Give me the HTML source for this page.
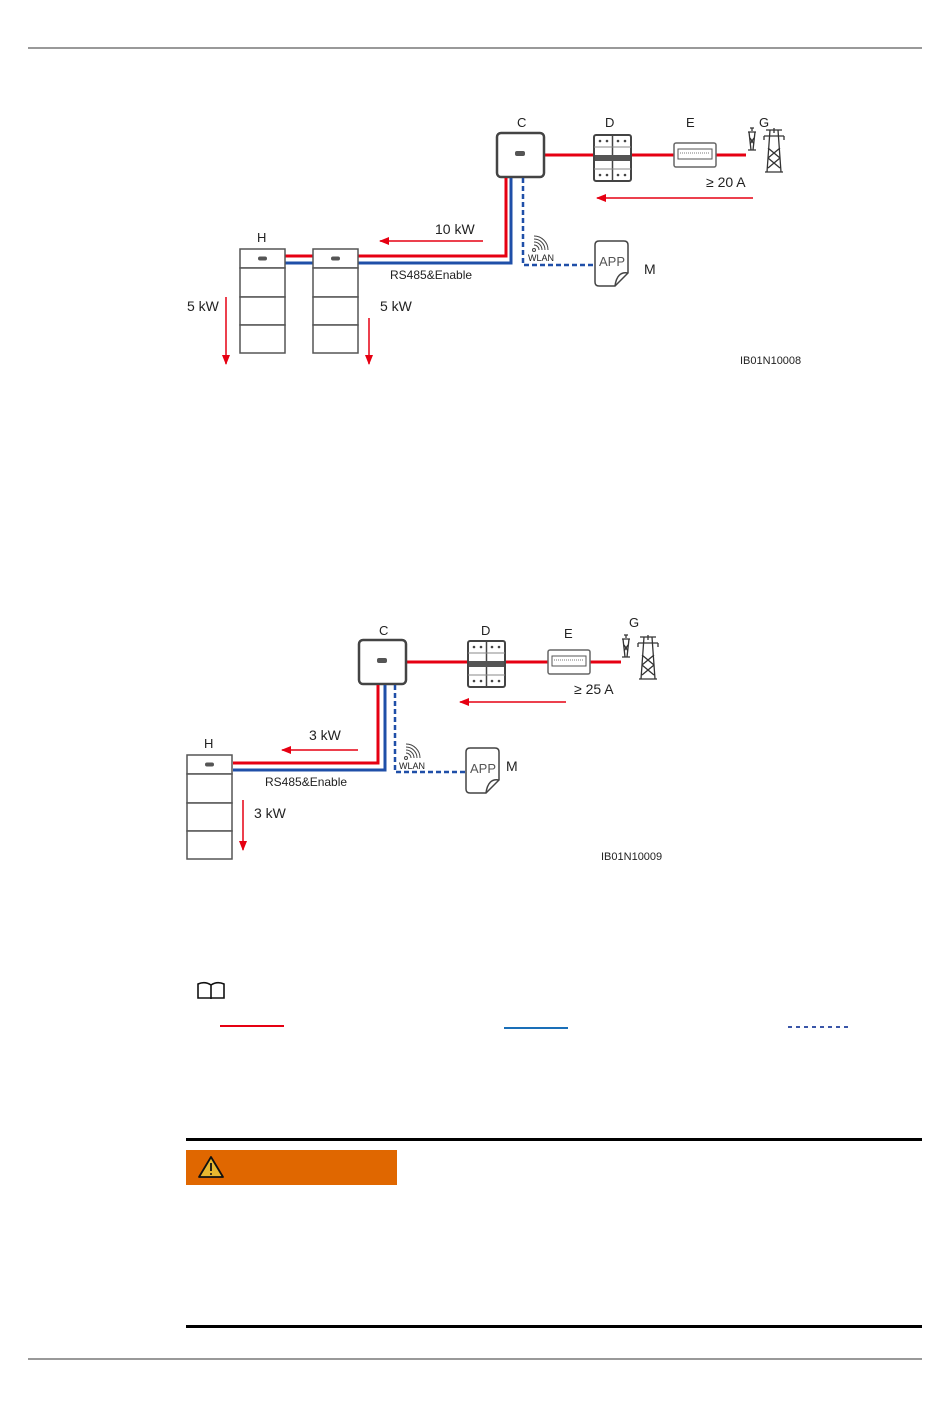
<!DOCTYPE html>
<html><head><meta charset="utf-8"><style>
html,body{margin:0;padding:0;background:#fff}
svg{display:block}
text{font-family:"Liberation Sans",sans-serif;fill:#222}
</style></head><body>
<svg width="950" height="1408" viewBox="0 0 950 1408" xmlns="http://www.w3.org/2000/svg">
<defs>
<marker id="ar" markerWidth="10" markerHeight="8" refX="9" refY="4" orient="auto" markerUnits="userSpaceOnUse">
<path d="M0,0 L10,4 L0,8 z" fill="#e60012"/></marker>
<g id="inv"><rect x="1" y="1" width="47" height="44" rx="4" fill="#fff" stroke="#444" stroke-width="2.5"/><rect x="19" y="19" width="10" height="5" rx="2" fill="#555"/></g>
<g id="brk"><rect x="0" y="0" width="37" height="46" rx="2" fill="#fff" stroke="#444" stroke-width="2"/><line x1="18.5" y1="0" x2="18.5" y2="46" stroke="#444" stroke-width="1.5"/><rect x="1" y="20" width="35" height="6" fill="#555"/><circle cx="6" cy="6" r="1.3" fill="#444"/><circle cx="13" cy="6" r="1.3" fill="#444"/><circle cx="24" cy="6" r="1.3" fill="#444"/><circle cx="31" cy="6" r="1.3" fill="#444"/><circle cx="6" cy="40" r="1.3" fill="#444"/><circle cx="13" cy="40" r="1.3" fill="#444"/><circle cx="24" cy="40" r="1.3" fill="#444"/><circle cx="31" cy="40" r="1.3" fill="#444"/><line x1="0" y1="12" x2="37" y2="12" stroke="#888"/><line x1="0" y1="34" x2="37" y2="34" stroke="#888"/></g>
<g id="mtr"><rect x="0" y="0" width="42" height="24" rx="2" fill="#fff" stroke="#666" stroke-width="1.5"/><rect x="4" y="6" width="34" height="10" fill="#fff" stroke="#555"/><line x1="6" y1="10" x2="36" y2="10" stroke="#777" stroke-dasharray="1,1"/></g>
<g id="twr" fill="none" stroke="#333" stroke-width="1.3"><path d="M2,0 L6,0 M4,0 L4,3 M0,4 L8,4 M1,4 L3,22 M7,4 L5,22 M2,10 L6,16 M6,10 L2,16 M0,22 L8,22"/><path d="M18,2 L34,2 M26,0 L26,5 M16,8 L36,8 M22,2 L19,44 M30,2 L33,44 M20,20 L32,30 M32,20 L20,30 M20,30 L32,40 M32,30 L20,40 M17,44 L35,44 M16,8 L16,12 M36,8 L36,12"/></g>
<g id="bat" stroke="#555" stroke-width="1.5" fill="#fff"><rect x="0" y="0" width="45" height="19"/><rect x="0" y="19" width="45" height="29"/><rect x="0" y="48" width="45" height="28"/><rect x="0" y="76" width="45" height="28"/><rect x="18" y="7.5" width="9" height="4" rx="2" fill="#555" stroke="none"/></g>
<g id="app"><path d="M4,0 L29,0 Q33,0 33,4 L33,32 L20,45 L4,45 Q0,45 0,41 L0,4 Q0,0 4,0 Z" fill="#fff" stroke="#444" stroke-width="1.5"/><path d="M33,32 Q22,30 20,45" fill="none" stroke="#444" stroke-width="1.5"/><text x="4" y="25" font-size="13" style="fill:#555">APP</text></g>
<g id="wl" fill="none" stroke="#444" stroke-width="1"><circle cx="3" cy="13" r="1.5"/><path d="M3,8 A5,5 0 0 1 8,13 M3,5 A8,8 0 0 1 11,13 M3,2 A11,11 0 0 1 14,13 M3,-1 A14,14 0 0 1 17,13"/></g>
</defs>

<line x1="28" y1="48" x2="922" y2="48" stroke="#333" stroke-width="1"/>
<line x1="28" y1="1359" x2="922" y2="1359" stroke="#333" stroke-width="1"/>

<!-- Diagram 1 -->
<g>
<line x1="544" y1="155" x2="746" y2="155" stroke="#e60012" stroke-width="3"/>
<use href="#inv" x="496" y="132"/>
<use href="#brk" x="594" y="135"/>
<use href="#mtr" x="674" y="143"/>
<use href="#twr" x="748" y="128"/>
<text x="517" y="127" font-size="13">C</text>
<text x="605" y="127" font-size="13">D</text>
<text x="686" y="127" font-size="13">E</text>
<text x="759" y="127" font-size="13">G</text>
<text x="706" y="187" font-size="14">≥ 20 A</text>
<line x1="753" y1="198" x2="597" y2="198" stroke="#e60012" stroke-width="1.5" marker-end="url(#ar)"/>
<polyline points="506,178 506,256 358,256" fill="none" stroke="#e60012" stroke-width="3"/>
<polyline points="511,178 511,263 358,263" fill="none" stroke="#1f4fa8" stroke-width="3"/>
<polyline points="523,178 523,265 594,265" fill="none" stroke="#1f4fa8" stroke-width="2.5" stroke-dasharray="5,3"/>
<line x1="285" y1="256" x2="313" y2="256" stroke="#e60012" stroke-width="3"/>
<line x1="285" y1="263" x2="313" y2="263" stroke="#1f4fa8" stroke-width="3"/>
<use href="#bat" x="240" y="249"/>
<use href="#bat" x="313" y="249"/>
<text x="257" y="242" font-size="13">H</text>
<line x1="483" y1="241" x2="380" y2="241" stroke="#e60012" stroke-width="1.5" marker-end="url(#ar)"/>
<text x="435" y="234" font-size="14">10 kW</text>
<text x="390" y="279" font-size="12">RS485&amp;Enable</text>
<line x1="226" y1="297" x2="226" y2="364" stroke="#e60012" stroke-width="1.5" marker-end="url(#ar)"/>
<line x1="369" y1="318" x2="369" y2="364" stroke="#e60012" stroke-width="1.5" marker-end="url(#ar)"/>
<text x="187" y="311" font-size="14">5 kW</text>
<text x="380" y="311" font-size="14">5 kW</text>
<use href="#wl" x="531" y="237"/>
<text x="528" y="261" font-size="9">WLAN</text>
<use href="#app" x="595" y="241"/>
<text x="644" y="274" font-size="14">M</text>
<text x="740" y="364" font-size="11">IB01N10008</text>
</g>

<!-- Diagram 2 -->
<g>
<line x1="407" y1="662" x2="621" y2="662" stroke="#e60012" stroke-width="3"/>
<use href="#inv" x="358" y="639"/>
<use href="#brk" x="468" y="641"/>
<use href="#mtr" x="548" y="650"/>
<use href="#twr" x="622" y="635"/>
<text x="379" y="635" font-size="13">C</text>
<text x="481" y="635" font-size="13">D</text>
<text x="564" y="638" font-size="13">E</text>
<text x="629" y="627" font-size="13">G</text>
<text x="574" y="694" font-size="14">≥ 25 A</text>
<line x1="566" y1="702" x2="460" y2="702" stroke="#e60012" stroke-width="1.5" marker-end="url(#ar)"/>
<polyline points="378,685 378,763 233,763" fill="none" stroke="#e60012" stroke-width="3"/>
<polyline points="385,685 385,770 233,770" fill="none" stroke="#1f4fa8" stroke-width="3"/>
<polyline points="395,685 395,772 466,772" fill="none" stroke="#1f4fa8" stroke-width="2.5" stroke-dasharray="5,3"/>
<use href="#bat" x="187" y="755"/>
<text x="204" y="748" font-size="13">H</text>
<line x1="358" y1="750" x2="282" y2="750" stroke="#e60012" stroke-width="1.5" marker-end="url(#ar)"/>
<text x="309" y="740" font-size="14">3 kW</text>
<text x="265" y="786" font-size="12">RS485&amp;Enable</text>
<line x1="243" y1="800" x2="243" y2="850" stroke="#e60012" stroke-width="1.5" marker-end="url(#ar)"/>
<text x="254" y="818" font-size="14">3 kW</text>
<use href="#wl" x="403" y="745"/>
<text x="399" y="769" font-size="9">WLAN</text>
<use href="#app" x="466" y="748"/>
<text x="506" y="771" font-size="14">M</text>
<text x="601" y="860" font-size="11">IB01N10009</text>
</g>

<!-- note -->
<g fill="none" stroke="#111" stroke-width="1.6"><path d="M198,984 L198,998 L211,998 L224,998 L224,984 Q217,981 211,985 Q205,981 198,984 Z M211,985 L211,999"/></g>
<line x1="220" y1="1026" x2="284" y2="1026" stroke="#e60012" stroke-width="2"/>
<line x1="504" y1="1028" x2="568" y2="1028" stroke="#1a6fb8" stroke-width="2"/>
<line x1="788" y1="1027" x2="852" y2="1027" stroke="#3a56a8" stroke-width="2" stroke-dasharray="4,4"/>

<!-- warning -->
<rect x="186" y="1138" width="736" height="3" fill="#000"/>
<rect x="186" y="1150" width="211" height="35" fill="#e06700"/>
<path d="M211,1157 L223,1177 L199,1177 Z" fill="#e8b830" stroke="#111" stroke-width="1.8" stroke-linejoin="round"/>
<line x1="211" y1="1163" x2="211" y2="1171" stroke="#111" stroke-width="1.8"/>
<circle cx="211" cy="1174" r="1" fill="#111"/>
<rect x="186" y="1325" width="736" height="3" fill="#000"/>
</svg>
</body></html>
